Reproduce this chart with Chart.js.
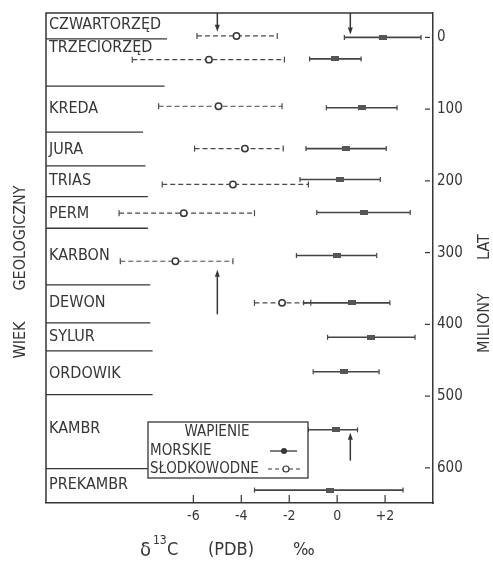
<!DOCTYPE html>
<html>
<head>
<meta charset="utf-8">
<script src="https://cdn.jsdelivr.net/npm/chart.js@4.4.0/dist/chart.umd.min.js"></script>
<style>
html, body { margin: 0; padding: 0; background: #fff; }
#wrap { width: 493px; height: 563px; }
</style>
</head>
<body>
<div id="wrap"><canvas id="chart"></canvas></div>
<script>
// okresy geologiczne i granice między nimi (mln lat)
const periods = ['CZWARTORZĘD', 'TRZECIORZĘD', 'KREDA', 'JURA', 'TRIAS', 'PERM', 'KARBON', 'DEWON', 'SYLUR', 'ORDOWIK', 'KAMBR', 'PREKAMBR'];
const periodLabelAge = [-17, 15, 99, 157, 200, 246, 304, 370, 417, 469, 545, 623];
const boundaryAge = [2, 68, 132, 179, 222, 266, 345, 398, 437, 498, 601];
const boundaryEnd = [-7.1, -7.2, -8.1, -8.0, -7.9, -7.9, -7.8, -7.8, -7.7, -7.7, -7.9];

// wapienie morskie: zakres i średnia d13C
const marineAge = [0, 30, 98, 155, 198, 244, 304, 370, 418, 466, 547, 631];
const marineMin = [0.3, -1.15, -0.45, -1.3, -1.55, -0.85, -1.7, -1.4, -0.4, -1.0, -1.2, -3.45];
const marineMean = [1.9, -0.1, 1.05, 0.35, 0.1, 1.1, 0, 0.6, 1.4, 0.3, -0.05, -0.3];
const marineMax = [3.5, 1.0, 2.5, 2.05, 1.8, 3.05, 1.65, 2.2, 3.25, 1.75, 0.85, 2.75];

// wapienie słodkowodne
const freshAge = [-2, 31, 96, 155, 205, 245, 312, 370];
const freshMin = [-5.85, -8.55, -7.45, -5.95, -7.3, -9.1, -9.05, -3.45];
const freshMean = [-4.2, -5.35, -4.95, -3.85, -4.35, -6.4, -6.75, -2.3];
const freshMax = [-2.5, -2.2, -2.3, -2.25, -1.2, -3.45, -4.35, -1.1];

// strzałki (x w d13C, od/do w mln lat)
const arrowX = [-5, 0.55, -5, 0.55];
const arrowFrom = [-34, -34, 386, 590];
const arrowTo = [-8, -4, 324, 551];

const xTicks = [-6, -4, -2, 0, 2];
const xTickLabels = ['-6', '-4', '-2', '0', '+2'];
const yTicks = [0, 100, 200, 300, 400, 500, 600];

const INK = '#363636';
const FONT = '"DejaVu Sans Condensed", "DejaVu Sans", sans-serif';

function rangePoints(age, lo, hi) {
    const pts = [];
    age.forEach((a, i) => {
        pts.push({x: lo[i], y: a}, {x: hi[i], y: a}, {x: hi[i], y: null});
    });
    return pts;
}

function meanPoints(age, mean) {
    return age.map((a, i) => ({x: mean[i], y: a}));
}

// mały prostokąt jako znacznik średniej dla wapieni morskich
const marineMark = document.createElement('canvas');
marineMark.width = 8;
marineMark.height = 5;
const mctx = marineMark.getContext('2d');
mctx.fillStyle = '#555';
mctx.fillRect(0, 0, 8, 5);

const decorations = {
    id: 'decorations',
    beforeDatasetsDraw(chart) {
        const {ctx, chartArea: a, scales: {x, y}} = chart;
        ctx.save();
        ctx.strokeStyle = INK;
        ctx.lineWidth = 1.5;
        // górna i lewa krawędź ramki
        ctx.beginPath();
        ctx.moveTo(a.left, a.bottom);
        ctx.lineTo(a.left, a.top);
        ctx.lineTo(a.right, a.top);
        ctx.stroke();

        // granice okresów
        ctx.lineWidth = 1.3;
        boundaryAge.forEach((age, i) => {
            const py = y.getPixelForValue(age);
            ctx.beginPath();
            ctx.moveTo(a.left, py);
            ctx.lineTo(x.getPixelForValue(boundaryEnd[i]), py);
            ctx.stroke();
        });

        // kreski podziałki do wnętrza
        ctx.lineWidth = 1.2;
        xTicks.forEach(v => {
            const px = x.getPixelForValue(v);
            ctx.beginPath();
            ctx.moveTo(px, a.bottom);
            ctx.lineTo(px, a.bottom - 8);
            ctx.stroke();
        });
        yTicks.forEach(v => {
            const py = y.getPixelForValue(v);
            ctx.beginPath();
            ctx.moveTo(a.right - 8, py);
            ctx.lineTo(a.right - 3, py);
            ctx.stroke();
        });

        // nazwy okresów
        ctx.fillStyle = INK;
        ctx.font = '16px ' + FONT;
        ctx.textBaseline = 'middle';
        ctx.textAlign = 'left';
        periods.forEach((name, i) => {
            ctx.fillText(name, a.left + 3, y.getPixelForValue(periodLabelAge[i]));
        });

        // opisy osi
        ctx.save();
        ctx.translate(21, 0);
        ctx.rotate(-Math.PI / 2);
        ctx.textAlign = 'center';
        ctx.fillText('GEOLOGICZNY', -238, 0);
        ctx.fillText('WIEK', -340, 0);
        ctx.restore();

        ctx.save();
        ctx.translate(485, 0);
        ctx.rotate(-Math.PI / 2);
        ctx.textAlign = 'center';
        ctx.fillText('LAT', -247, 0);
        ctx.fillText('MILIONY', -323, 0);
        ctx.restore();

        ctx.textBaseline = 'alphabetic';
        ctx.font = '20px ' + FONT;
        ctx.fillText('δ', 140, 556);
        ctx.font = '12px ' + FONT;
        ctx.fillText('13', 153, 544);
        ctx.font = '18px ' + FONT;
        ctx.fillText('C', 167, 555);
        ctx.fillText('(PDB)', 208, 555);
        ctx.fillText('‰', 293, 555);
        ctx.restore();
    },
    afterDatasetsDraw(chart) {
        const {ctx, scales: {x, y}} = chart;
        ctx.save();
        ctx.strokeStyle = INK;
        ctx.fillStyle = INK;
        ctx.lineWidth = 1.5;
        // strzałki
        arrowX.forEach((v, i) => {
            const px = x.getPixelForValue(v);
            const y0 = y.getPixelForValue(arrowFrom[i]);
            const y1 = y.getPixelForValue(arrowTo[i]);
            const dir = y1 > y0 ? 1 : -1;
            ctx.beginPath();
            ctx.moveTo(px, y0);
            ctx.lineTo(px, y1 - dir * 4);
            ctx.stroke();
            ctx.beginPath();
            ctx.moveTo(px, y1);
            ctx.lineTo(px - 2.5, y1 - dir * 7);
            ctx.lineTo(px + 2.5, y1 - dir * 7);
            ctx.closePath();
            ctx.fill();
        });

        // legenda
        const bx = 148, by = 422, bw = 160, bh = 56;
        ctx.fillStyle = '#fff';
        ctx.fillRect(bx, by, bw, bh);
        ctx.lineWidth = 1.3;
        ctx.strokeRect(bx, by, bw, bh);
        ctx.fillStyle = INK;
        ctx.font = '15px ' + FONT;
        ctx.textBaseline = 'middle';
        ctx.textAlign = 'center';
        ctx.fillText('WAPIENIE', 217, 432);
        ctx.textAlign = 'left';
        ctx.fillText('MORSKIE', 150, 451);
        ctx.fillText('SŁODKOWODNE', 150, 469);

        ctx.beginPath();
        ctx.moveTo(270, 451);
        ctx.lineTo(297, 451);
        ctx.stroke();
        ctx.beginPath();
        ctx.arc(284, 451, 3, 0, Math.PI * 2);
        ctx.fill();

        ctx.lineWidth = 1.2;
        ctx.setLineDash([4, 3]);
        ctx.beginPath();
        ctx.moveTo(268, 469);
        ctx.lineTo(302, 469);
        ctx.stroke();
        ctx.setLineDash([]);
        ctx.fillStyle = '#fff';
        ctx.beginPath();
        ctx.arc(286, 469, 3, 0, Math.PI * 2);
        ctx.fill();
        ctx.stroke();
        ctx.restore();
    }
};

const options = {
    data: {
        datasets: [{
            type: 'scatter',
            label: 'morskie',
            data: meanPoints(marineAge, marineMean),
            pointStyle: marineMark,
            order: 0
        }, {
            type: 'scatter',
            label: 'słodkowodne',
            data: meanPoints(freshAge, freshMean),
            pointStyle: 'circle',
            pointRadius: 3.2,
            pointBackgroundColor: '#fff',
            pointBorderColor: INK,
            pointBorderWidth: 1.5,
            order: 0
        }, {
            type: 'line',
            label: 'morskie zakres',
            data: rangePoints(marineAge, marineMin, marineMax),
            borderColor: '#444',
            borderWidth: 1.6,
            pointStyle: 'line',
            pointRotation: 90,
            pointRadius: 2.5,
            pointBorderColor: '#444',
            pointBorderWidth: 1.2,
            spanGaps: false,
            order: 1
        }, {
            type: 'line',
            label: 'słodkowodne zakres',
            data: rangePoints(freshAge, freshMin, freshMax),
            borderColor: '#4a4a4a',
            borderWidth: 1.2,
            borderDash: [5, 3],
            pointStyle: 'line',
            pointRotation: 90,
            pointRadius: 3,
            pointBorderColor: '#4a4a4a',
            pointBorderWidth: 1.2,
            spanGaps: false,
            order: 1
        }]
    },
    options: {
        responsive: true,
        maintainAspectRatio: false,
        animation: false,
        layout: {padding: {left: 46, top: 6, right: 0, bottom: 0}},
        plugins: {
            legend: {display: false},
            tooltip: {enabled: false}
        },
        scales: {
            x: {
                type: 'linear',
                position: 'bottom',
                min: -12.15,
                max: 4,
                afterBuildTicks: s => { s.ticks = xTicks.map(v => ({value: v})); },
                afterFit: s => { s.height = 60; },
                grid: {display: false, drawTicks: false},
                border: {display: true, color: INK, width: 1.5},
                ticks: {
                    color: INK,
                    font: {family: FONT, size: 14},
                    padding: 5,
                    maxRotation: 0,
                    callback: v => xTickLabels[xTicks.indexOf(v)]
                }
            },
            y: {
                type: 'linear',
                position: 'right',
                reverse: true,
                min: -34,
                max: 649,
                afterBuildTicks: s => { s.ticks = yTicks.map(v => ({value: v})); },
                afterFit: s => { s.width = 60; },
                grid: {display: false, drawTicks: false},
                border: {display: true, color: INK, width: 1.5},
                ticks: {
                    color: INK,
                    font: {family: FONT, size: 15},
                    padding: 4,
                    callback: v => String(v)
                }
            }
        }
    },
    plugins: [decorations]
};

new Chart(document.getElementById('chart'), options);
</script>
</body>
</html>
